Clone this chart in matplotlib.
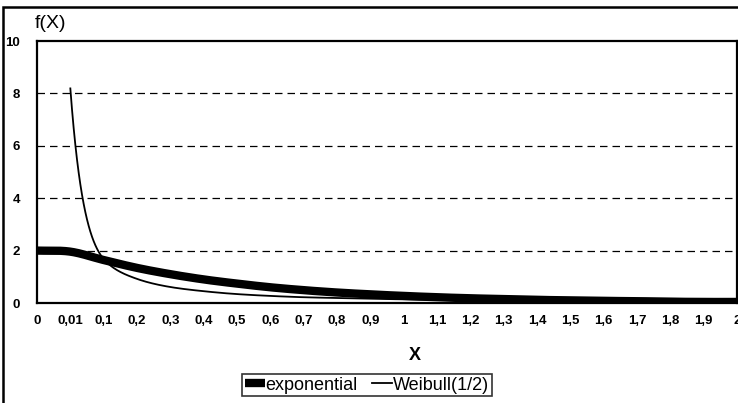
import numpy as np
import matplotlib
matplotlib.use("Agg")
import matplotlib.pyplot as plt
from matplotlib.patches import Rectangle

plt.rcParams['font.family'] = ['Liberation Sans', 'DejaVu Sans']

categories = ["0", "0,01", "0,1", "0,2", "0,3", "0,4", "0,5", "0,6", "0,7", "0,8", "0,9",
              "1", "1,1", "1,2", "1,3", "1,4", "1,5", "1,6", "1,7", "1,8", "1,9", "2"]
exponential = [2.00, 1.96, 1.64, 1.34, 1.10, 0.90, 0.74, 0.60, 0.49, 0.40, 0.33,
               0.27, 0.22, 0.18, 0.15, 0.12, 0.10, 0.08, 0.07, 0.05, 0.04, 0.04]
weibull = [np.nan, 8.19, 1.68, 0.92, 0.61, 0.45, 0.34, 0.27, 0.22, 0.19, 0.16,
           0.14, 0.12, 0.10, 0.09, 0.08, 0.07, 0.06, 0.06, 0.05, 0.05, 0.04]
y_ticks = [0, 2, 4, 6, 8, 10]


def hermite(x, y, m, n=40):
    xs, ys = [], []
    h = np.diff(x)
    for k in range(len(x) - 1):
        t = np.linspace(0, 1, n, endpoint=(k == len(x) - 2))
        h00 = 2 * t**3 - 3 * t**2 + 1; h10 = t**3 - 2 * t**2 + t
        h01 = -2 * t**3 + 3 * t**2; h11 = t**3 - t**2
        xs.append(x[k] + t * h[k])
        ys.append(h00 * y[k] + h10 * h[k] * m[k] + h01 * y[k + 1] + h11 * h[k] * m[k + 1])
    return np.concatenate(xs), np.concatenate(ys)


def pchip(x, y):
    x = np.asarray(x, float); y = np.asarray(y, float)
    h = np.diff(x); d = np.diff(y) / h
    m = np.zeros_like(y)
    for k in range(1, len(y) - 1):
        if d[k - 1] * d[k] <= 0:
            m[k] = 0
        else:
            w1 = 2 * h[k] + h[k - 1]; w2 = h[k] + 2 * h[k - 1]
            m[k] = (w1 + w2) / (w1 / d[k - 1] + w2 / d[k])
    def endslope(h0, h1, d0, d1):
        s = ((2 * h0 + h1) * d0 - h0 * d1) / (h0 + h1)
        if np.sign(s) != np.sign(d0):
            s = 0
        elif np.sign(d0) != np.sign(d1) and abs(s) > abs(3 * d0):
            s = 3 * d0
        return s
    m[0] = endslope(h[0], h[1], d[0], d[1])
    m[-1] = endslope(h[-1], h[-2], d[-1], d[-2])
    return hermite(x, y, m)


def catmull(x, y):
    x = np.asarray(x, float); y = np.asarray(y, float)
    m = np.zeros_like(y)
    m[1:-1] = (y[2:] - y[:-2]) / (x[2:] - x[:-2])
    m[0] = (y[1] - y[0]) / (x[1] - x[0])
    m[-1] = (y[-1] - y[-2]) / (x[-1] - x[-2])
    return hermite(x, y, m)


def smooth_log(x, y):
    xs, ly = pchip(x, np.log(np.asarray(y, float)))
    return xs, np.exp(ly)


fig = plt.figure(figsize=(7.38, 4.03), dpi=100)
W, H = 738, 403
ax = fig.add_axes([37 / W, 1 - 303 / H, (737 - 37) / W, (303 - 41) / H])

idx = np.arange(len(categories))
xe, ye = catmull(idx, exponential)
ax.plot(xe, ye, color='black', lw=6, solid_capstyle='butt', label='exponential')
warr = np.array(weibull, float)
wmask = ~np.isnan(warr)
xw, yw = smooth_log(idx[wmask], warr[wmask])
ax.plot(xw, yw, color='black', lw=1.3, label='Weibull(1/2)')

ax.set_xlim(0, len(categories) - 1)
ax.set_ylim(0, 10)
ax.set_xticks(idx)
ax.set_xticklabels(categories, fontsize=9.5, fontweight='bold')
ax.set_yticks(y_ticks)
ax.set_yticklabels([str(v) for v in y_ticks], fontsize=9.5, fontweight='bold')
ax.tick_params(axis='x', length=0, pad=9)
ax.tick_params(axis='y', length=0, pad=12)
for v in y_ticks[1:-1]:
    ax.axhline(v, color='black', lw=0.9, ls=(0, (6, 4)), zorder=0)
for s in ax.spines.values():
    s.set_linewidth(1.6)
    s.set_color('black')

ax.set_xlabel('X', fontsize=13, fontweight='bold')
ax.xaxis.set_label_coords((415 - 37) / 700, (303 - 355) / 262)
ax.xaxis.label.set_va('center')
fig.text(35 / W, 1 - 24 / H, 'f(X)', fontsize=14, va='center', ha='left')

leg = fig.legend(loc='center', bbox_to_anchor=(367 / W, 1 - 385 / H), ncol=2,
                 fontsize=13, frameon=True, fancybox=False, handlelength=1.1,
                 handletextpad=0.05, columnspacing=0.8, borderpad=0.15,
                 borderaxespad=0)
leg.get_frame().set_edgecolor('black')
leg.get_frame().set_linewidth(1.2)

fig.patches.append(Rectangle((3 / W, -0.05), 1.2, 1 - 7 / H + 0.05, transform=fig.transFigure,
                             fill=False, edgecolor='black', lw=1.8))

fig.savefig('out.png', dpi=100)
